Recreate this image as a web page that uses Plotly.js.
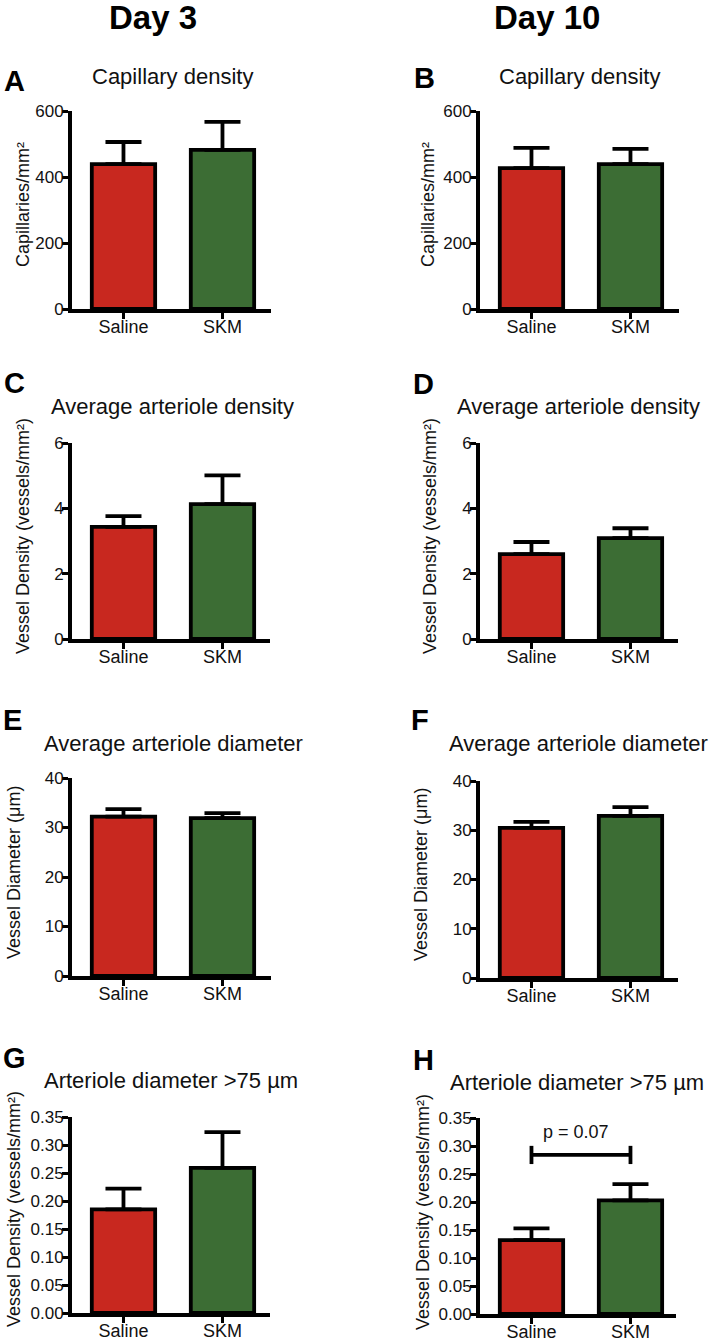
<!DOCTYPE html>
<html>
<head>
<meta charset="utf-8">
<script src="https://cdn.plot.ly/plotly-3.0.1.min.js"></script>
<style>
  html, body { margin: 0; padding: 0; background: #fff; }
  #chart { width: 714px; height: 1341px; }
</style>
</head>
<body>
<div id="chart"></div>
<script>
// ---------------- DATA ----------------
const categories = ['Saline', 'SKM'];
const dayLabels = ['Day 3', 'Day 10'];
const panelLetters = ['A', 'B', 'C', 'D', 'E', 'F', 'G', 'H'];
const panelTitles = [
  'Capillary density', 'Capillary density',
  'Average arteriole density', 'Average arteriole density',
  'Average arteriole diameter', 'Average arteriole diameter',
  'Arteriole diameter >75 µm', 'Arteriole diameter >75 µm'
];
const yTitles = [
  'Capillaries/mm²', 'Capillaries/mm²',
  'Vessel Density (vessels/mm²)', 'Vessel Density (vessels/mm²)',
  'Vessel Diameter (μm)', 'Vessel Diameter (μm)',
  'Vessel Density (vessels/mm²)', 'Vessel Density (vessels/mm²)'
];

// Means (Saline, SKM) and upper SEM
const capDay3 = [439, 482];
const capDay3Err = [67, 85];
const capDay10 = [427, 439];
const capDay10Err = [61, 46];
const artDensDay3 = [3.43, 4.13];
const artDensDay3Err = [0.33, 0.88];
const artDensDay10 = [2.60, 3.09];
const artDensDay10Err = [0.37, 0.30];
const artDiamDay3 = [32.2, 31.9];
const artDiamDay3Err = [1.5, 1.0];
const artDiamDay10 = [30.5, 32.9];
const artDiamDay10Err = [1.2, 1.8];
const bigArtDay3 = [0.185, 0.259];
const bigArtDay3Err = [0.037, 0.064];
const bigArtDay10 = [0.132, 0.203];
const bigArtDay10Err = [0.021, 0.029];

// Axis tick values
const capTicks = [0, 200, 400, 600];
const densTicks = [0, 2, 4, 6];
const diamTicks = [0, 10, 20, 30, 40];
const bigTicks = [0, 0.05, 0.10, 0.15, 0.20, 0.25, 0.30, 0.35];

// Significance annotation (panel H)
const pText = 'p = 0.07';
const pBracketY = 0.284;
const pTextY = 0.325;

// ---------------- LAYOUT ----------------
const W = 714, H = 1341;
const FONT = 'Liberation Sans, Arial, Helvetica, sans-serif';
const RED = '#C8281F';
const GREEN = '#3C6D34';

const seriesVals = [capDay3, capDay10, artDensDay3, artDensDay10, artDiamDay3, artDiamDay10, bigArtDay3, bigArtDay10];
const seriesErrs = [capDay3Err, capDay10Err, artDensDay3Err, artDensDay10Err, artDiamDay3Err, artDiamDay10Err, bigArtDay3Err, bigArtDay10Err];
const tickSets = [capTicks, capTicks, densTicks, densTicks, diamTicks, diamTicks, bigTicks, bigTicks];

// pixel boxes [x0, x1, yTop, yBottom]
const boxes = [
  [72, 271, 111, 309], [480, 679, 111, 309],
  [72, 270, 443, 639], [480, 678, 443, 639],
  [72, 271, 778, 976], [480, 678, 781, 978],
  [72, 270, 1117, 1313], [480, 676, 1118, 1314]
];
const titlePos = [[172, 76], [579, 76], [172, 406], [578, 406], [173, 743], [578, 743], [171, 1080], [577, 1082]];
const letterPos = [[14, 81], [424, 78], [14, 383], [423, 384], [12, 720], [420, 720], [14, 1058], [423, 1060]];
const yTitlePos = [[23, 205], [428, 205], [23, 536], [430, 536], [14, 873], [421, 875], [14, 1209], [423, 1212]];
const dayPos = [[153, 17], [547, 17]];

const px = x => x / W;
const py = y => 1 - y / H;
const UNIT = 99; // px per category step

const traces = [];
const layout = {
  width: W, height: H,
  margin: {l: 0, r: 0, t: 0, b: 0},
  paper_bgcolor: '#fff', plot_bgcolor: 'rgba(0,0,0,0)',
  showlegend: false,
  font: {family: FONT, color: '#111', size: 18},
  annotations: [],
  bargap: 0
};

for (let i = 0; i < 8; i++) {
  const n = i + 1;
  const xs = n === 1 ? 'x' : 'x' + n;
  const ys = n === 1 ? 'y' : 'y' + n;
  const [x0, x1, yt, yb] = boxes[i];
  const ticks = tickSets[i];
  traces.push({
    type: 'bar', x: categories, y: seriesVals[i], xaxis: xs, yaxis: ys,
    width: 0.64,
    marker: {color: [RED, GREEN], line: {color: '#000', width: 3.8}},
    error_y: {type: 'data', symmetric: false, array: seriesErrs[i], arrayminus: [0, 0],
              color: '#000', thickness: 3.8, width: 18},
    hoverinfo: 'skip'
  });
  const r0 = -0.52;
  layout['xaxis' + (n === 1 ? '' : n)] = {
    domain: [px(x0), px(x1)], anchor: ys, type: 'category',
    range: [r0, r0 + (x1 - x0) / UNIT],
    showline: true, linecolor: '#000', linewidth: 4,
    ticks: 'outside', ticklen: 6, tickwidth: 3, tickcolor: '#000',
    ticklabelstandoff: -8,
    tickfont: {family: FONT, size: 18, color: '#111'},
    showgrid: false, zeroline: false, fixedrange: true
  };
  const isBig = i >= 6;
  layout['yaxis' + (n === 1 ? '' : n)] = {
    domain: [py(yb), py(yt)], anchor: xs,
    range: [0, ticks[ticks.length - 1]],
    tickvals: ticks,
    tickformat: isBig ? '.2f' : '',
    showline: true, linecolor: '#000', linewidth: 4,
    ticks: 'outside', ticklen: 6, tickwidth: 3, tickcolor: '#000',
    ticklabelstandoff: -5,
    tickfont: {family: FONT, size: 17, color: '#111'},
    showgrid: false, zeroline: false, fixedrange: true
  };
  // panel title
  layout.annotations.push({
    xref: 'paper', yref: 'paper', x: px(titlePos[i][0]), y: py(titlePos[i][1]),
    xanchor: 'center', yanchor: 'middle', showarrow: false,
    text: panelTitles[i], font: {family: FONT, size: 22, color: '#111'}
  });
  // panel letter
  layout.annotations.push({
    xref: 'paper', yref: 'paper', x: px(letterPos[i][0]), y: py(letterPos[i][1]),
    xanchor: 'center', yanchor: 'middle', showarrow: false,
    text: panelLetters[i], font: {family: FONT, size: 29, color: '#000', weight: 'bold'}
  });
  // y-axis title
  layout.annotations.push({
    xref: 'paper', yref: 'paper', x: px(yTitlePos[i][0]), y: py(yTitlePos[i][1]),
    xanchor: 'center', yanchor: 'middle', showarrow: false, textangle: -90,
    text: yTitles[i], font: {family: FONT, size: 18, color: '#111'}
  });
}

// Day headers
for (let d = 0; d < 2; d++) {
  layout.annotations.push({
    xref: 'paper', yref: 'paper', x: px(dayPos[d][0]), y: py(dayPos[d][1]),
    xanchor: 'center', yanchor: 'middle', showarrow: false,
    text: dayLabels[d], font: {family: FONT, size: 33, color: '#000', weight: 'bold'}
  });
}

// Significance bracket in panel H
traces.push({
  type: 'scatter', mode: 'lines+markers', x: categories, y: [pBracketY, pBracketY],
  xaxis: 'x8', yaxis: 'y8',
  line: {color: '#000', width: 3.8},
  marker: {symbol: 'line-ns-open', size: 13, line: {color: '#000', width: 3.8}, color: '#000'},
  hoverinfo: 'skip'
});
layout.annotations.push({
  xref: 'x8', yref: 'y8', x: 0.45, y: pTextY,
  xanchor: 'center', yanchor: 'middle', showarrow: false,
  text: pText, font: {family: FONT, size: 18, color: '#111'}
});

Plotly.newPlot('chart', traces, layout, {staticPlot: true, displayModeBar: false});
</script>
</body>
</html>
